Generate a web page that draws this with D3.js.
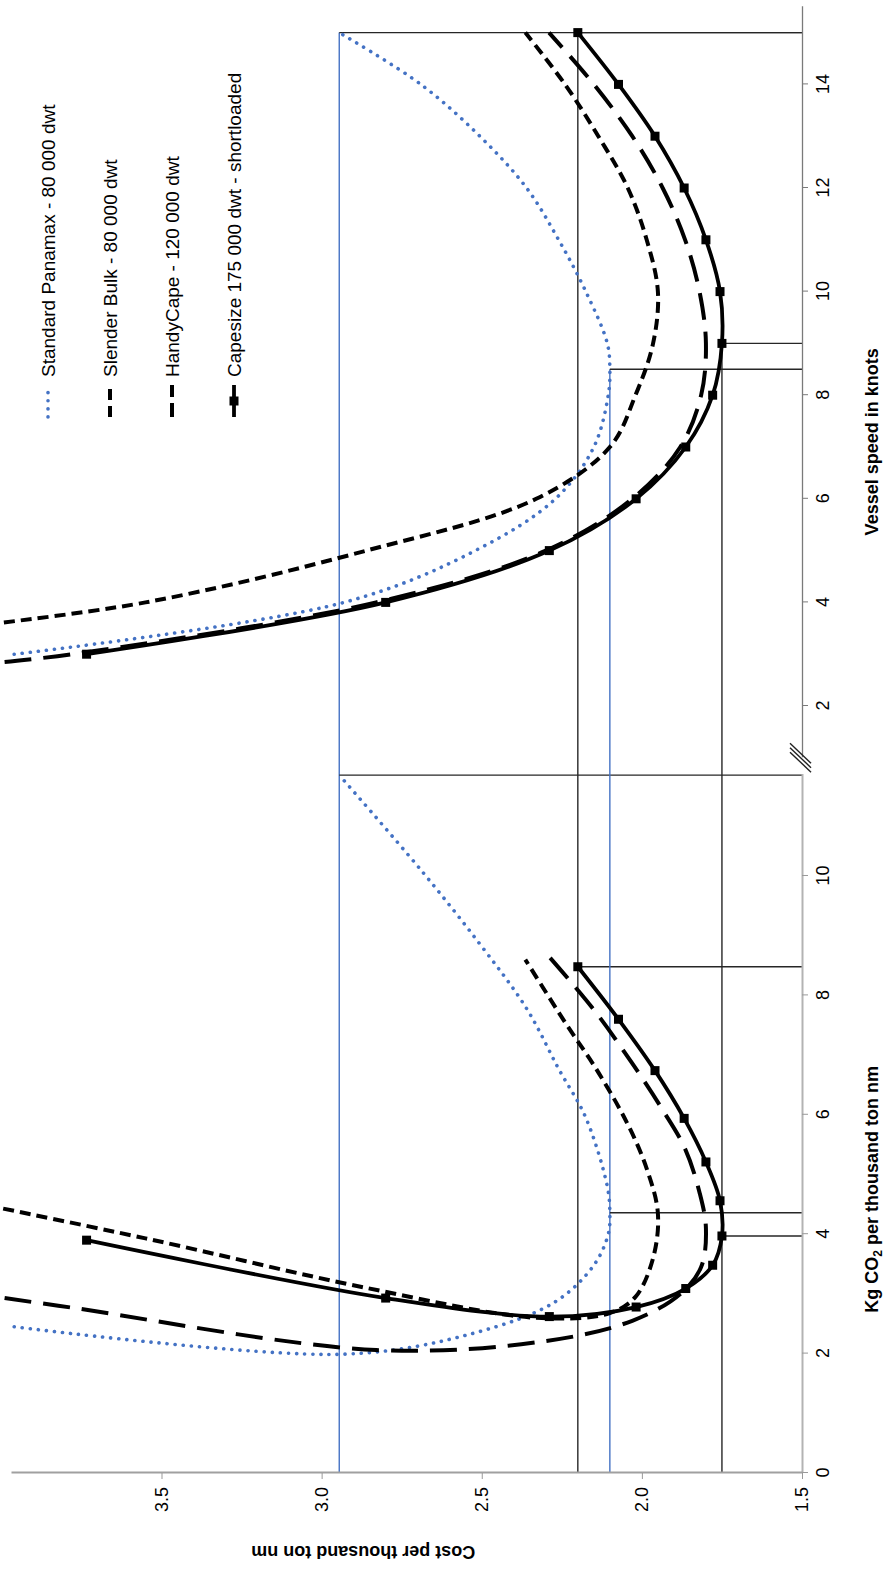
<!DOCTYPE html>
<html>
<head>
<meta charset="utf-8">
<script src="https://cdn.jsdelivr.net/npm/d3@7"></script>
<style>
  body { margin: 0; background: #fff; }
  svg text { font-family: "Liberation Sans", Arial, sans-serif; fill: #000; }
  .tick text { font-family: "Liberation Sans Narrow", "Arial Narrow", "Liberation Sans", sans-serif; font-size: 18px; }
</style>
</head>
<body>
<div id="chart"></div>
<script>
// legend labels
var legend_labels = ['Standard Panamax - 80 000 dwt', 'Slender Bulk - 80 000 dwt',
  'HandyCape - 120 000 dwt', 'Capesize 175 000 dwt - shortloaded'];

// tick labels
var speed_ticks = [2, 4, 6, 8, 10, 12, 14];
var co2_ticks = [0, 2, 4, 6, 8, 10];
var cost_ticks = [1.5, 2.0, 2.5, 3.0, 3.5];

// series: speed (knots), cost per thousand ton nm, kg CO2 per thousand ton nm
var panamax_speed = [3, 4, 5, 6, 7, 8, 8.5, 9, 10, 11, 12, 13, 14, 15];
var panamax_cost = [3.96, 2.93, 2.52, 2.27, 2.15, 2.105, 2.10, 2.108, 2.175, 2.26, 2.36, 2.506, 2.69, 2.945];
var panamax_co2 = [2.45, 1.99, 2.35, 2.87, 3.48, 4.0, 4.36, 4.8, 5.95, 6.77, 7.78, 8.86, 10.1, 11.69];

var slender_speed = [3.5, 4, 5, 6, 7, 8, 9, 10, 11, 12, 13, 14, 15];
var slender_cost = [4.15, 3.55, 2.86, 2.33, 2.10, 2.02, 1.965, 1.95, 1.985, 2.044, 2.136, 2.24, 2.364];
var slender_co2 = [4.6, 3.93, 3.10, 2.60, 2.68, 2.95, 3.6, 4.35, 5.10, 5.84, 6.71, 7.55, 8.6];

var handy_speed = [2.85, 3, 4, 5, 6, 7, 8, 9, 10, 11, 12, 13, 14, 15];
var handy_cost = [3.99, 3.78, 2.83, 2.30, 2.03, 1.88, 1.815, 1.80, 1.82, 1.865, 1.935, 2.03, 2.15, 2.29];
var handy_co2 = [2.93, 2.77, 2.06, 2.21, 2.55, 3.0, 3.45, 4.1, 4.7, 5.43, 6.08, 6.86, 7.76, 8.65];

var cape_speed = [3, 4, 5, 6, 7, 8, 9, 10, 11, 12, 13, 14, 15];
var cape_cost = [3.734, 2.80, 2.289, 2.018, 1.863, 1.779, 1.75, 1.756, 1.80, 1.868, 1.959, 2.073, 2.20];
var cape_co2 = [3.9, 2.93, 2.62, 2.78, 3.09, 3.48, 3.97, 4.56, 5.21, 5.94, 6.74, 7.60, 8.48];

// reference lines: [series index, speed]
var ref_lines = [[0, 15], [3, 15], [0, 8.5], [3, 9]];

var width = 886;
var height = 1571;

var svg = d3.select('#chart')
  .append('svg')
  .attr('width', width)
  .attr('height', height);

// the whole chart lies on its side, so draw it normally and turn it
var g = svg.append('g')
  .attr('transform', 'translate(0,' + height + ') rotate(-90)');

var y = d3.scaleLinear().domain([1.5, 3.97]).range([802, 11]);
var xs = d3.scaleLinear().domain([1, 15.5]).range([813.2, 1564.3]);
var xc = d3.scaleLinear().domain([0, 11.7]).range([98, 796.5]);

var series = [
  {speed: panamax_speed, cost: panamax_cost, co2: panamax_co2, color: '#4472C4', w: 3.6, dash: '0.1 8', cap: 'round'},
  {speed: slender_speed, cost: slender_cost, co2: slender_co2, color: '#000', w: 4, dash: '11 6', cap: 'butt'},
  {speed: handy_speed, cost: handy_cost, co2: handy_co2, color: '#000', w: 4, dash: '27 12', cap: 'butt'},
  {speed: cape_speed, cost: cape_cost, co2: cape_co2, color: '#000', w: 3.8, dash: null, cap: 'butt', marker: true}
];
series.forEach(function(s, i) {
  s.name = legend_labels[i];
  s.points = s.speed.map(function(k, j) {
    return {speed: k, cost: s.cost[j], co2: s.co2[j]};
  });
});

function pointAt(si, k) {
  return series[si].points.find(function(p) { return p.speed == k; });
}

// clip areas for the two panels
var defs = svg.append('defs');
defs.append('clipPath').attr('id', 'clip-top')
  .append('rect')
  .attr('x', xs.range()[0]).attr('y', 0)
  .attr('width', height - xs.range()[0]).attr('height', 808);
defs.append('clipPath').attr('id', 'clip-bot')
  .append('rect')
  .attr('x', xc.range()[0]).attr('y', 0)
  .attr('width', xc.range()[1] - xc.range()[0]).attr('height', 808);

// reference lines
var refs = g.append('g').attr('class', 'refs').attr('stroke-width', 1.4).attr('fill', 'none');
ref_lines.forEach(function(r) {
  var p = pointAt(r[0], r[1]);
  refs.append('line')
    .attr('x1', xc(0)).attr('x2', xs(p.speed))
    .attr('y1', y(p.cost)).attr('y2', y(p.cost))
    .attr('stroke', r[0] == 0 ? '#4472C4' : '#262626');
  refs.append('line')
    .attr('x1', xs(p.speed)).attr('x2', xs(p.speed))
    .attr('y1', y(p.cost)).attr('y2', y(1.5))
    .attr('stroke', '#262626');
  refs.append('line')
    .attr('x1', xc(p.co2)).attr('x2', xc(p.co2))
    .attr('y1', y(p.cost)).attr('y2', y(1.5))
    .attr('stroke', '#262626');
});

var lineTop = d3.line()
  .x(function(d) { return xs(d.speed); })
  .y(function(d) { return y(d.cost); })
  .curve(d3.curveCatmullRom.alpha(0.5));

var lineBot = d3.line()
  .x(function(d) { return xc(d.co2); })
  .y(function(d) { return y(d.cost); })
  .curve(d3.curveCatmullRom.alpha(0.5));

[['clip-top', lineTop, 'speed', xs], ['clip-bot', lineBot, 'co2', xc]].forEach(function(panel) {
  var pg = g.append('g').attr('clip-path', 'url(#' + panel[0] + ')');
  series.forEach(function(s) {
    pg.append('path')
      .datum(s.points)
      .attr('d', panel[1])
      .attr('fill', 'none')
      .attr('stroke', s.color)
      .attr('stroke-width', s.w)
      .attr('stroke-dasharray', s.dash)
      .attr('stroke-linecap', s.cap);
    if (s.marker) {
      pg.selectAll(null)
        .data(s.points)
        .enter()
        .append('rect')
        .attr('x', function(d) { return panel[3](d[panel[2]]) - 4.5; })
        .attr('y', function(d) { return y(d.cost) - 4.5; })
        .attr('width', 9)
        .attr('height', 9)
        .attr('fill', '#000');
    }
  });
});

// axes
var axTop = g.append('g')
  .attr('transform', 'translate(0,' + y(1.5) + ')')
  .call(d3.axisBottom(xs).tickValues(speed_ticks).tickSize(6).tickPadding(8).tickSizeOuter(0));
axTop.select('.domain').attr('stroke', '#7a7a7a').attr('stroke-width', 1.3);
axTop.selectAll('.tick line').attr('stroke', '#7a7a7a');

var axBot = g.append('g')
  .attr('transform', 'translate(0,' + y(1.5) + ')')
  .call(d3.axisBottom(xc).tickValues(co2_ticks).tickSize(6).tickPadding(8).tickSizeOuter(0));
axBot.select('.domain').attr('stroke', '#b3b3b3').attr('stroke-width', 2);
axBot.selectAll('.tick line').attr('stroke', '#999');

var axCost = g.append('g')
  .attr('transform', 'translate(' + xc(0) + ',0)')
  .call(d3.axisLeft(y).tickValues(cost_ticks).tickFormat(d3.format('.1f')).tickSize(6).tickPadding(8).tickSizeOuter(0));
axCost.select('.domain').attr('stroke', '#a0a0a0').attr('stroke-width', 2);
axCost.selectAll('.tick line').attr('stroke', '#999');

// axis titles
g.append('text')
  .attr('x', xs(7.1)).attr('y', 878)
  .attr('text-anchor', 'middle')
  .style('font-size', '18px').style('font-weight', 'bold')
  .text('Vessel speed in knots');

var co2Title = g.append('text')
  .attr('x', xc(4.75)).attr('y', 878)
  .attr('text-anchor', 'middle')
  .style('font-size', '18px').style('font-weight', 'bold');
co2Title.append('tspan').text('Kg CO');
co2Title.append('tspan').attr('dy', 4).style('font-size', '12px').text('2');
co2Title.append('tspan').attr('dy', -4).text(' per thousand ton nm');

g.append('text')
  .attr('transform', 'translate(25,' + y(2.87) + ') rotate(-90)')
  .attr('text-anchor', 'middle')
  .style('font-size', '18px').style('font-weight', 'bold')
  .text('Cost per thousand ton nm');

// legend
var legend = g.append('g').attr('class', 'legend');
series.forEach(function(s, i) {
  var ly = 48 + 62 * i;
  legend.append('line')
    .attr('x1', 1154).attr('x2', 1186)
    .attr('y1', ly).attr('y2', ly)
    .attr('stroke', s.color)
    .attr('stroke-width', s.w)
    .attr('stroke-dasharray', s.marker ? null : (i == 2 ? '14 6' : s.dash))
    .attr('stroke-linecap', s.cap);
  if (s.marker) {
    legend.append('rect')
      .attr('x', 1165.5).attr('y', ly - 4.5)
      .attr('width', 9).attr('height', 9)
      .attr('fill', '#000');
  }
  legend.append('text')
    .attr('x', 1194).attr('y', ly)
    .attr('dy', '0.35em')
    .style('font-size', '19px')
    .text(s.name);
});

// axis break marks between the two panels
var bx = y(1.5);
var by = height - (xs.range()[0] + xc.range()[1]) / 2;
for (var i = 0; i < 3; i++) {
  svg.append('line')
    .attr('x1', bx - 12).attr('y1', by - 23 + i * 4.5)
    .attr('x2', bx + 9).attr('y2', by - 3 + i * 4.5)
    .attr('stroke', '#222')
    .attr('stroke-width', 1.4);
}
</script>
</body>
</html>
